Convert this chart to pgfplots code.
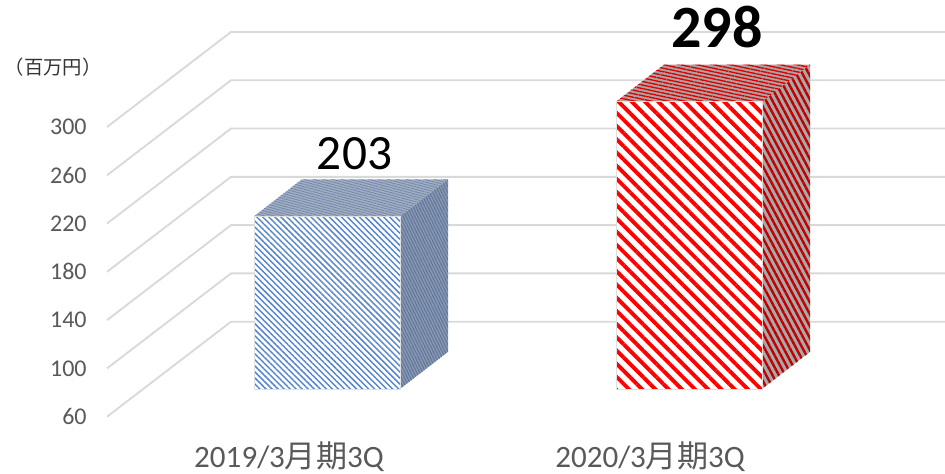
\documentclass[border=0pt]{standalone}
\usepackage{pgfplots}
\pgfplotsset{compat=1.18}
\usetikzlibrary{patterns.meta}
\usepackage{fontspec}
\setmainfont{Carlito}
\newfontfamily\cjk{Noto Sans CJK JP}
\definecolor{gridc}{HTML}{D9D9D9}
\definecolor{txtgray}{HTML}{595959}
\definecolor{bstripe}{HTML}{5586D0}
\definecolor{bside}{HTML}{8A98AE}
\definecolor{bsidel}{HTML}{5A74A0}
\definecolor{btop}{HTML}{A3AEBF}
\definecolor{btopl}{HTML}{6F88B0}
\definecolor{rside}{HTML}{A8A8A8}
\definecolor{rsidel}{HTML}{C00000}
\definecolor{rtop}{HTML}{B0A0A0}

% #1 left x of front face, #2 value, #3 front, #4 side, #5 top
\newcommand{\threedbar}[5]{%
  \pgfmathsetmacro\BxL{#1}%
  \pgfmathsetmacro\BxR{#1+146}%
  \pgfmathsetmacro\BxLb{#1+48}%
  \pgfmathsetmacro\BxRb{#1+146+48}%
  \pgfmathsetmacro\ByB{60+23}%
  \pgfmathsetmacro\ByT{#2+23}%
  \pgfmathsetmacro\ByBb{60+23+30.7}%
  \pgfmathsetmacro\ByTb{#2+23+30.7}%
  \addplot[#4] coordinates {(\BxR,\ByB) (\BxRb,\ByBb) (\BxRb,\ByTb) (\BxR,\ByT)} -- cycle;
  \addplot[#5] coordinates {(\BxL,\ByT) (\BxR,\ByT) (\BxRb,\ByTb) (\BxLb,\ByTb)} -- cycle;
  \addplot[#3] coordinates {(\BxL,\ByB) (\BxR,\ByB) (\BxR,\ByT) (\BxL,\ByT)} -- cycle;
}

\begin{document}
\begin{tikzpicture}
\begin{axis}[
  scale only axis,
  width=708.75pt, height=354.75pt,
  xmin=0, xmax=945, ymin=13.36, ymax=405.2,
  axis line style={draw=none},
  xtick=\empty,
  ytick={60,100,140,180,220,260,300},
  major tick length=0pt,
  /pgf/number format/assume math mode=true,
  yticklabel style={font=\fontsize{18}{18}\selectfont, text=txtgray, anchor=east, xshift=68.5pt},
  clip=false,
]
% gridlines (front edge -> back wall)
\addplot[gridc, line width=1.4pt, mark=none] coordinates {(107,60) (231,138.7) (945,138.7)};
\addplot[gridc, line width=1.4pt, mark=none] coordinates {(107,100) (231,178.7) (945,178.7)};
\addplot[gridc, line width=1.4pt, mark=none] coordinates {(107,140) (231,218.7) (945,218.7)};
\addplot[gridc, line width=1.4pt, mark=none] coordinates {(107,180) (231,258.7) (945,258.7)};
\addplot[gridc, line width=1.4pt, mark=none] coordinates {(107,220) (231,298.7) (945,298.7)};
\addplot[gridc, line width=1.4pt, mark=none] coordinates {(107,260) (231,338.7) (945,338.7)};
\addplot[gridc, line width=1.4pt, mark=none] coordinates {(107,300) (231,378.7) (945,378.7)};

% bar 1: 2019/3 3Q = 203
\threedbar{254}{203}
  {draw=gray!25, line width=0.4pt, fill=white, mark=none,
   postaction={pattern={Lines[angle=-45,distance=3.2pt,line width=1.1pt]}, pattern color=bstripe}}
  {draw=none, fill=bside, mark=none,
   postaction={pattern={Lines[angle=-64,distance=2.0pt,line width=0.7pt]}, pattern color=bsidel}}
  {draw=none, fill=btop, mark=none,
   postaction={pattern={Lines[angle=-15,distance=1.8pt,line width=0.6pt]}, pattern color=btopl}}

% bar 2: 2020/3 3Q = 298
\threedbar{616}{298}
  {draw=gray!25, line width=0.4pt, fill=white, mark=none,
   postaction={pattern={Lines[angle=-45,distance=7pt,line width=2.9pt]}, pattern color=red}}
  {draw=none, fill=rside, mark=none,
   postaction={pattern={Lines[angle=-62,distance=4.2pt,line width=1.8pt]}, pattern color=rsidel}}
  {draw=none, fill=rtop, mark=none,
   postaction={pattern={Lines[angle=-12,distance=2.6pt,line width=1.0pt]}, pattern color=red!85!black}}

% value labels
\node[anchor=base, font=\fontsize{37}{37}\selectfont] at (axis cs:354.5,264.4) {203};
\node[anchor=base, font=\fontsize{45}{45}\selectfont\bfseries] at (axis cs:717,365.5) {298};

% category labels
\node[anchor=base, text=txtgray, font=\fontsize{23.3}{24}\selectfont] at (axis cs:289,18.3) {2019/3{\cjk 月期}3Q};
\node[anchor=base, text=txtgray, font=\fontsize{23.3}{24}\selectfont] at (axis cs:650,18.3) {2020/3{\cjk 月期}3Q};

% unit label
\node[text=black!80, font=\fontsize{14.5}{14.5}\selectfont\cjk] at (axis cs:53,349.7) {（百万円）};
\end{axis}
\pgfresetboundingbox
\path (current axis.south west) rectangle (current axis.north east);
\end{tikzpicture}
\end{document}
